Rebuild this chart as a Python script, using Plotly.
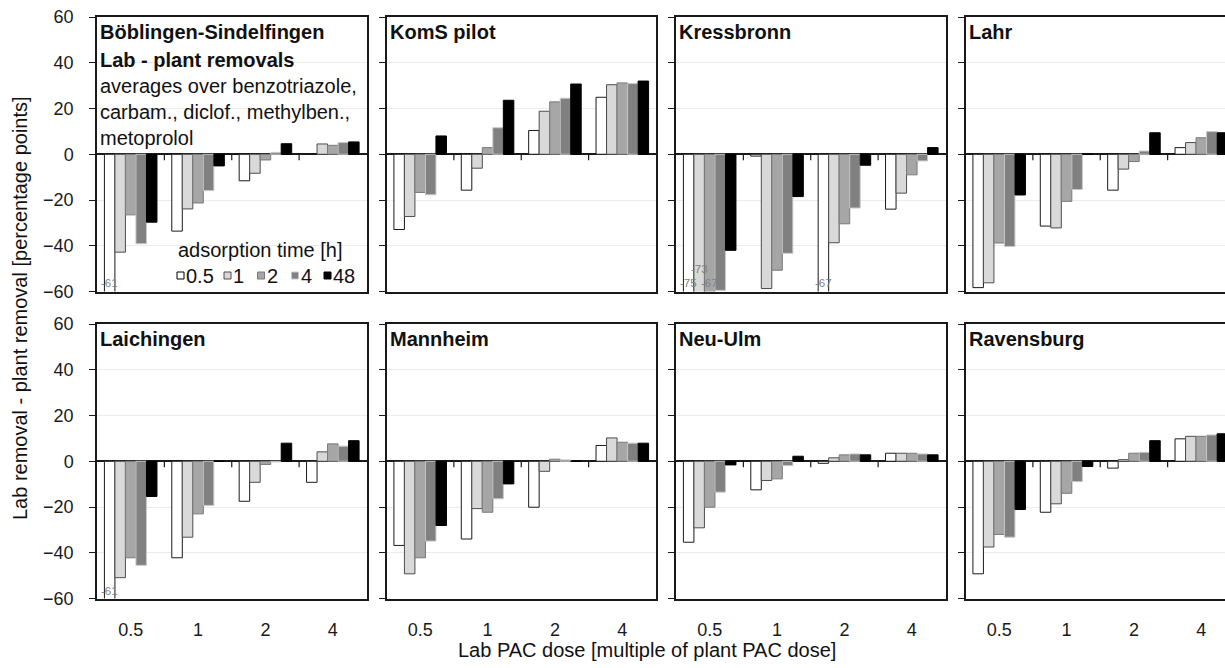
import plotly.graph_objects as go

# ---------------- data ----------------
doses = ["0.5", "1", "2", "4"]                 # lab PAC dose (x categories)
times = ["0.5", "1", "2", "4", "48"]           # adsorption time [h] (series)
plants = ["Böblingen-Sindelfingen", "KomS pilot", "Kressbronn", "Lahr",
          "Laichingen", "Mannheim", "Neu-Ulm", "Ravensburg"]

# rows: adsorption time 0.5, 1, 2, 4, 48 h ; columns: dose 0.5, 1, 2, 4
boeblingen = [[-61, -33.6, -11.6, 0.0],
              [-42.8, -23.9, -8.3, 4.5],
              [-26.5, -21.3, -2.5, 3.9],
              [-39.1, -15.9, 0.8, 5.1],
              [-29.7, -5.1, 4.6, 5.4]]
koms = [[-32.9, -15.7, 10.4, 24.9],
        [-27.2, -6.1, 18.8, 30.4],
        [-16.7, 2.9, 22.9, 31.2],
        [-17.7, 11.6, 24.5, 30.9],
        [8.0, 23.6, 30.7, 32.0]]
kressbronn = [[-75, -0.8, -67, -24.0],
              [-73, -58.7, -38.7, -17.0],
              [-67, -50.7, -30.4, -9.0],
              [-59.5, -43.3, -23.5, -2.9],
              [-42.0, -18.5, -4.8, 2.9]]
lahr = [[-58.3, -31.4, -15.7, 2.9],
        [-56.2, -32.2, -6.5, 5.1],
        [-38.8, -20.6, -3.2, 7.2],
        [-40.3, -15.4, 1.4, 9.9],
        [-17.8, 0.0, 9.4, 9.4]]
laichingen = [[-61, -42.2, -17.5, -9.2],
              [-50.9, -33.2, -9.2, 4.1],
              [-42.2, -23.0, -1.4, 7.6],
              [-45.5, -19.3, -0.3, 6.6],
              [-15.4, 0.0, 7.9, 9.0]]
mannheim = [[-36.8, -34.0, -20.1, 6.9],
            [-49.2, -20.7, -4.4, 10.2],
            [-42.2, -22.3, 0.9, 8.3],
            [-34.9, -16.4, 0.6, 7.9],
            [-28.1, -9.9, 0.0, 7.9]]
neu_ulm = [[-35.4, -12.5, -0.9, 3.5],
           [-29.1, -8.4, 1.5, 3.5],
           [-20.1, -7.7, 2.8, 3.5],
           [-13.5, -1.9, 3.2, 3.2],
           [-1.6, 2.2, 2.8, 2.8]]
ravensburg = [[-49.2, -22.3, -3.0, 9.8],
              [-37.5, -18.6, 0.7, 10.9],
              [-32.0, -14.0, 3.5, 10.9],
              [-33.2, -8.9, 3.9, 11.5],
              [-21.1, -2.3, 9.0, 12.0]]

values = [boeblingen, koms, kressbronn, lahr, laichingen, mannheim, neu_ulm, ravensburg]

y_ticks = [-60, -40, -20, 0, 20, 40, 60]

# ---------------- style ----------------
fills = ["#ffffff", "#d9d9d9", "#a6a6a6", "#808080", "#000000"]
edges = ["#1a1a1a", "#4d4d4d", "#7a7a7a", "#c8c8c8", "#000000"]
FONT = "Liberation Sans, Arial, sans-serif"
FS = 20
W, H = 1225, 668
Y_MIN, Y_MAX = -60, 60
panel_left = [97, 386.5, 676, 965.5]
panel_w = 269.5
row_top = [17, 324]
panel_h = 274.5
BARGAP = 0.22
FRAME = "#1a1a1a"


def px_x(p):
    return p / W


def px_y(p):
    return 1 - p / H


fig = go.Figure()
layout = {}
shapes = []
annotations = []

for k, (plant, rows) in enumerate(zip(plants, values)):
    r, c = divmod(k, 4)
    ax = "" if k == 0 else str(k + 1)
    for j, t in enumerate(times):
        fig.add_trace(go.Bar(
            x=list(range(len(doses))), y=rows[j], name=t,
            marker=dict(color=fills[j], line=dict(color=edges[j], width=1)),
            xaxis="x" + ax, yaxis="y" + ax, showlegend=False,
            hovertemplate=plant + "<br>dose %{x}<br>time " + t + " h: %{y}<extra></extra>"))

    x0 = panel_left[c]
    x1 = min(x0 + panel_w, W)
    x_hi = -0.5 + len(doses) * (x1 - x0) / panel_w
    layout["xaxis" + ax] = dict(
        domain=[px_x(x0), px_x(x1)], range=[-0.5, x_hi], anchor="y" + ax,
        automargin=False,
        showline=True, mirror=True, linecolor=FRAME, linewidth=1.5,
        showgrid=False, zeroline=False,
        tickvals=list(range(len(doses))), ticktext=doses, ticks="",
        showticklabels=(r == 1), ticklabelstandoff=14,
        tickfont=dict(size=18, color="#1a1a1a"))
    layout["yaxis" + ax] = dict(
        domain=[px_y(row_top[r] + panel_h), px_y(row_top[r])], range=[Y_MIN, Y_MAX],
        anchor="x" + ax, automargin=False,
        tickvals=y_ticks, ticks="outside", ticklen=6,
        tickcolor=FRAME, tickwidth=1.2,
        showline=True, mirror=True, linecolor=FRAME, linewidth=1.5,
        showgrid=True, gridcolor="#ececec", gridwidth=1,
        zeroline=True, zerolinecolor=FRAME, zerolinewidth=1.5,
        showticklabels=(c == 0), ticklabelstandoff=12,
        tickfont=dict(size=18, color="#1a1a1a"))

    # category boundary ticks hanging from the zero line
    for b in range(len(doses) - 1):
        shapes.append(dict(type="line", xref="x" + ax, yref="y" + ax,
                           x0=b + 0.5, x1=b + 0.5, ysizemode="pixel", yanchor=0,
                           y0=0, y1=-6, line=dict(color=FRAME, width=1.2)))

    # panel title
    annotations.append(dict(text="<b>" + plant + "</b>", xref="x" + ax + " domain",
                            yref="y" + ax + " domain", x=0, y=1, xanchor="left",
                            yanchor="top", xshift=1, yshift=-2, showarrow=False,
                            font=dict(size=FS, color="#111111")))

    # labels for bars that leave the plotting range
    bw = (1 - BARGAP) / len(times)
    for i in range(len(doses)):
        prev_shift = None
        for j in range(len(times)):
            v = rows[j][i]
            if v < Y_MIN:
                shift = 14 if prev_shift == 0 else 0
                annotations.append(dict(
                    text=f"{v:.0f}", xref="x" + ax, yref="y" + ax,
                    x=i - 0.5 + BARGAP / 2 + (j + 0.5) * bw, y=Y_MIN,
                    xanchor="center", yanchor="bottom", yshift=shift,
                    showarrow=False, font=dict(size=11.5, color="#7f7f7f")))
                prev_shift = shift
            else:
                prev_shift = None

# description text in first panel
annotations.append(dict(
    text="<b>Lab - plant removals</b><br>averages over benzotriazole,<br>"
         "carbam., diclof., methylben.,<br>metoprolol",
    xref="x domain", yref="y domain", x=0, y=1, xanchor="left", yanchor="top",
    align="left", xshift=1, yshift=-30, showarrow=False,
    font=dict(size=FS, color="#111111")))

# legend (adsorption time) drawn inside the first panel
annotations.append(dict(text="adsorption time [h]", xref="paper", yref="paper",
                        x=px_x(176), y=px_y(250), xanchor="left", yanchor="middle",
                        showarrow=False, font=dict(size=FS, color="#111111")))
legend_x = [177, 224, 257.5, 291.5, 324]
for j, t in enumerate(times):
    lx = legend_x[j]
    shapes.append(dict(type="rect", xref="paper", yref="paper",
                       x0=px_x(lx), x1=px_x(lx + 7), y0=px_y(279), y1=px_y(272),
                       fillcolor=fills[j], line=dict(color=edges[j] if j else "#000000", width=1)))
    annotations.append(dict(text=t, xref="paper", yref="paper", x=px_x(lx + 7),
                            y=px_y(276), xanchor="left", yanchor="middle",
                            showarrow=False, font=dict(size=FS, color="#111111")))

# axis titles
annotations.append(dict(text="Lab PAC dose [multiple of plant PAC dose]",
                        xref="paper", yref="paper", x=px_x(647), y=px_y(650),
                        xanchor="center", yanchor="middle", showarrow=False,
                        font=dict(size=FS, color="#111111")))
annotations.append(dict(text="Lab removal - plant removal [percentage points]",
                        xref="paper", yref="paper", x=px_x(20), y=px_y(308),
                        xanchor="center", yanchor="middle", textangle=-90,
                        showarrow=False, font=dict(size=FS, color="#111111")))

fig.update_layout(
    **layout,
    barmode="group", bargap=BARGAP, bargroupgap=0,
    width=W, height=H, margin=dict(l=0, r=0, t=0, b=0, pad=0, autoexpand=False),
    paper_bgcolor="white", plot_bgcolor="white",
    font=dict(family=FONT, size=FS, color="#111111"),
    shapes=shapes, annotations=annotations, showlegend=False)

fig.write_html("out.html",
               config={"displayModeBar": False},
               post_script="document.body.style.margin='0px';"
                           "document.body.style.overflow='hidden';")
